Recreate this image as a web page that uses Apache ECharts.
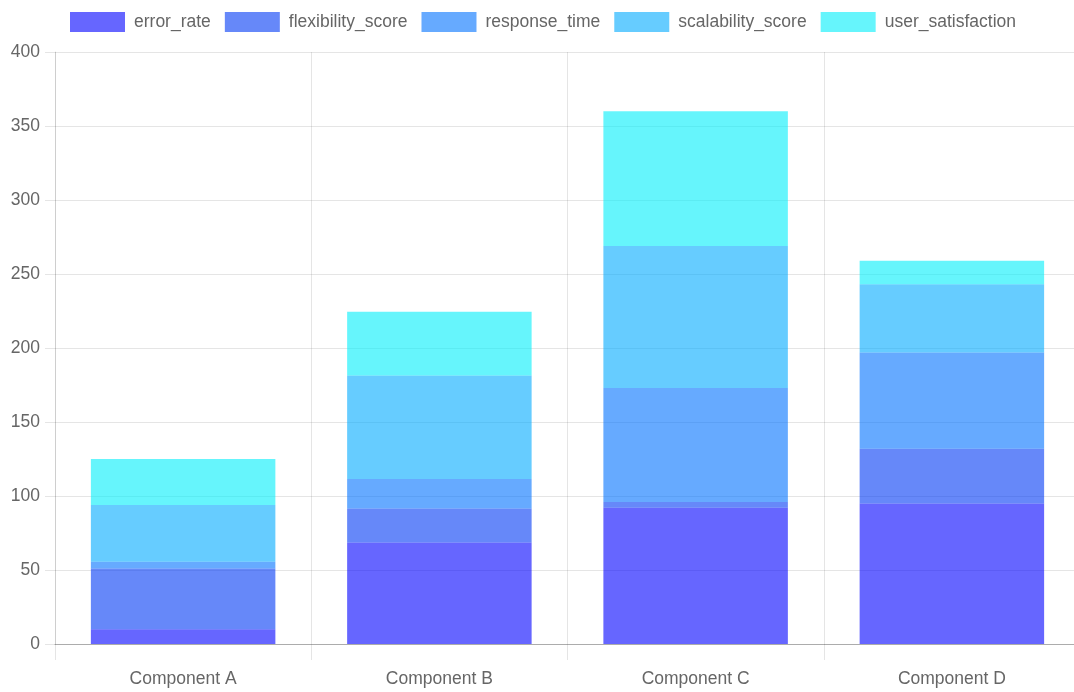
<!DOCTYPE html>
<html>
<head>
<meta charset="utf-8">
<script src="https://cdn.jsdelivr.net/npm/echarts@6/dist/echarts.min.js"></script>
<style>
  html, body { margin: 0; padding: 0; background: #fff; overflow: hidden; }
  #chart { width: 1080px; height: 692px; }
</style>
</head>
<body>
<div id="chart"></div>
<script>
// Stacked component metrics
const categories = ['Component A', 'Component B', 'Component C', 'Component D'];
const errorRate = [10, 68.5, 92, 95];
const flexibilityScore = [41, 23, 4, 37];
const responseTime = [4.5, 20, 77, 65];
const scalabilityScore = [38.5, 70, 96, 46];
const userSatisfaction = [31, 43, 91, 16];
const yTicks = { min: 0, max: 400, interval: 50 };

const FONT = '"Liberation Sans", Arial, sans-serif';
const TEXT = '#666';
const SIZE = 17.5;

const seriesDefs = [
  { name: 'error_rate', data: errorRate, color: 'rgba(0, 0, 255, 0.6)' },
  { name: 'flexibility_score', data: flexibilityScore, color: 'rgba(0, 56, 245, 0.6)' },
  { name: 'response_time', data: responseTime, color: 'rgba(0, 113, 255, 0.6)' },
  { name: 'scalability_score', data: scalabilityScore, color: 'rgba(0, 170, 255, 0.6)' },
  { name: 'user_satisfaction', data: userSatisfaction, color: 'rgba(0, 238, 250, 0.6)' }
];

const chart = echarts.init(document.getElementById('chart'), null, { renderer: 'canvas' });
chart.setOption({
  animation: false,
  textStyle: { fontFamily: FONT },
  legend: {
    top: 12,
    left: 70,
    padding: 0,
    itemWidth: 55,
    itemHeight: 20,
    itemGap: 14,
    icon: 'rect',
    textStyle: { color: TEXT, fontSize: SIZE, fontFamily: FONT, padding: [0, 0, 0, 4] },
    data: seriesDefs.map(s => s.name)
  },
  grid: { left: 55, right: 0, top: 52, bottom: 48, containLabel: false },
  xAxis: {
    type: 'category',
    data: categories,
    boundaryGap: true,
    axisLine: { show: true, lineStyle: { color: 'rgba(0,0,0,0.25)', width: 1 } },
    axisTick: { show: true, length: 16, lineStyle: { color: 'rgba(0,0,0,0.1)' } },
    splitLine: { show: true, lineStyle: { color: 'rgba(0,0,0,0.1)', width: 1 } },
    axisLabel: { color: TEXT, fontSize: SIZE, fontFamily: FONT, margin: 26 }
  },
  yAxis: {
    type: 'value',
    min: yTicks.min,
    max: yTicks.max,
    interval: yTicks.interval,
    axisLine: { show: true, lineStyle: { color: 'rgba(0,0,0,0.1)' } },
    axisTick: { show: true, length: 10, lineStyle: { color: 'rgba(0,0,0,0.1)' } },
    splitLine: { show: true, lineStyle: { color: 'rgba(0,0,0,0.1)', width: 1 } },
    axisLabel: { color: TEXT, fontSize: SIZE, fontFamily: FONT, margin: 15 }
  },
  series: seriesDefs.map(s => ({
    name: s.name,
    type: 'bar',
    stack: 'total',
    barWidth: '72%',
    data: s.data,
    itemStyle: { color: s.color },
    emphasis: { disabled: true }
  }))
});
</script>
</body>
</html>
